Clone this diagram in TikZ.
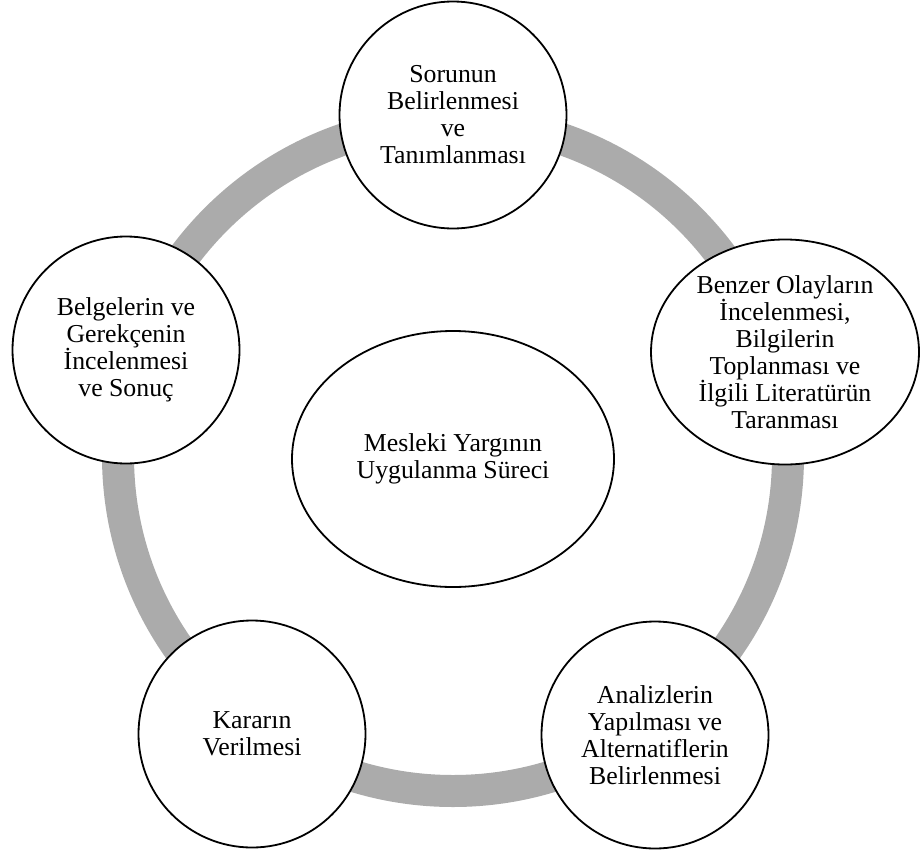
\documentclass[tikz,border=0pt]{standalone}
\usepackage{fontspec}
\setmainfont{Liberation Serif}
\usetikzlibrary{shapes.geometric}
\definecolor{ringgray}{HTML}{ABABAB}
\begin{document}
\begin{tikzpicture}[x=1pt,y=-1pt,
  stage/.style={ellipse, draw=black, line width=1.8pt, fill=white,
    inner sep=0pt, align=center, font=\fontsize{25.8}{27}\selectfont},
  roundstage/.style={stage, minimum width=227pt, minimum height=227pt},
  cycle ring/.style={draw=ringgray, line width=32pt}]
\useasboundingbox (0,0) rectangle (921,854);

% the grey cycle behind the stages
\coordinate (hub) at (453,456);
\draw[cycle ring] (hub) circle[radius=335pt];

% stages of the process
\node[roundstage] (s1) at (453,115)
  {Sorunun\\Belirlenmesi\\ve\\Tanımlanması};
\node[stage, minimum width=268pt, minimum height=225pt] (s2) at (785,352)
  {Benzer Olayların\\İncelenmesi,\\Bilgilerin\\Toplanması ve\\İlgili Literatürün\\Taranması};
\node[roundstage] (s3) at (655,735)
  {Analizlerin\\Yapılması ve\\Alternatiflerin\\Belirlenmesi};
\node[roundstage] (s4) at (252,734)
  {Kararın\\Verilmesi};
\node[roundstage] (s5) at (126,350)
  {Belgelerin ve\\Gerekçenin\\İncelenmesi\\ve Sonuç};

% central title
\node[stage, minimum width=322pt, minimum height=256pt] (core) at (453,459)
  {Mesleki Yargının\\Uygulanma Süreci};
\end{tikzpicture}
\end{document}
